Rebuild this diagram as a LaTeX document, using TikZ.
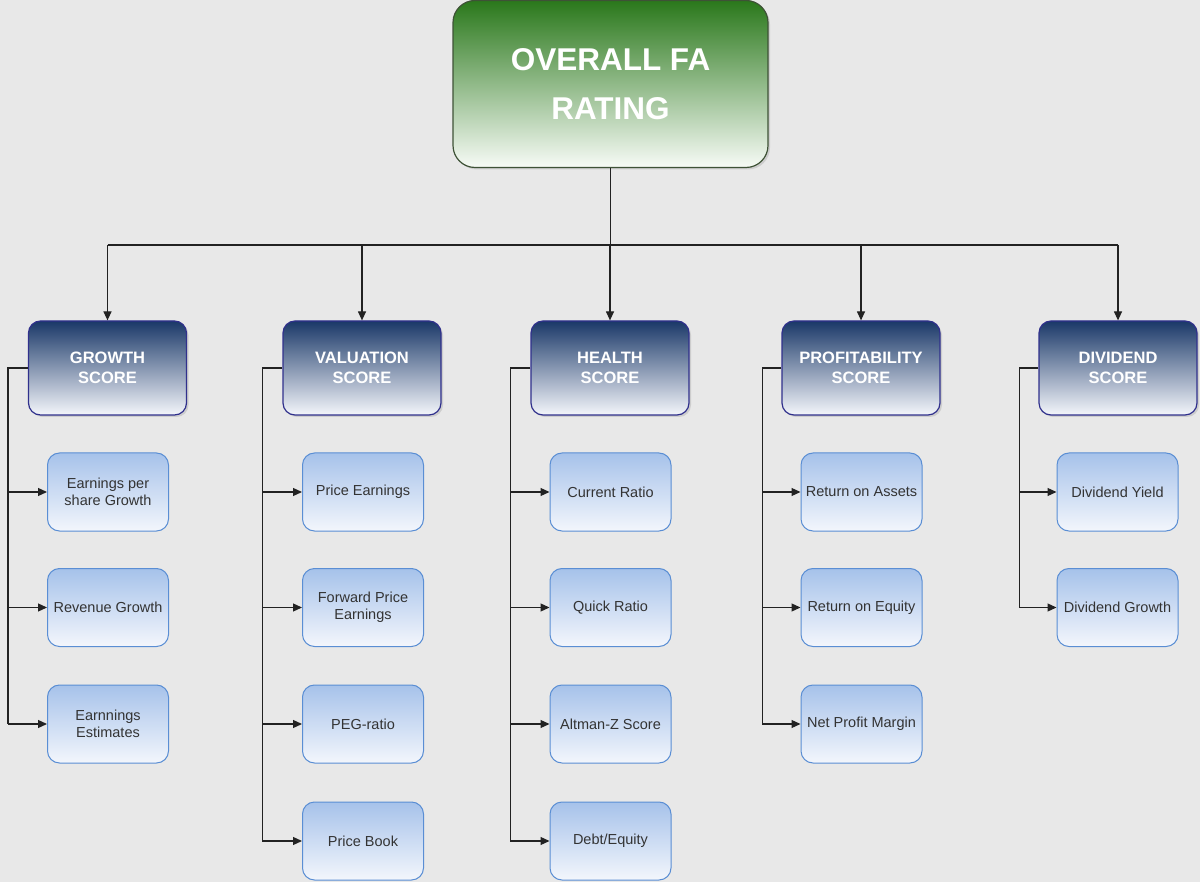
\documentclass[tikz,border=0pt]{standalone}
\usepackage{fontspec}
\setmainfont{Liberation Sans}
\usetikzlibrary{arrows.meta,shadows,calc}
\definecolor{bg}{HTML}{E8E8E8}
\definecolor{topgreen}{HTML}{2A781B}
\definecolor{topwhite}{HTML}{F7FBF6}
\definecolor{topborder}{HTML}{3E5236}
\definecolor{catnavy}{HTML}{1A3868}
\definecolor{catwhite}{HTML}{F4F6FB}
\definecolor{catborder}{HTML}{30308C}
\definecolor{leaftop}{HTML}{A6C2EA}
\definecolor{leafbot}{HTML}{F3F6FC}
\definecolor{leafborder}{HTML}{5A8ED4}
\definecolor{leaftext}{HTML}{333333}
\definecolor{conncol}{HTML}{222222}
\begin{document}
\begin{tikzpicture}[x=1pt,y=-1pt,
  shad/.style={drop shadow={opacity=0.25,shadow xshift=2pt,shadow yshift=-2pt}},
  topbox/.style={shad,draw=topborder,line width=1.2pt,rounded corners=22pt,
    top color=topgreen,bottom color=topwhite,minimum width=315pt,minimum height=167pt,
    inner sep=0pt,align=center,text=white,font=\fontsize{31.5}{49}\selectfont\bfseries},
  catbox/.style={shad,draw=catborder,line width=1.2pt,rounded corners=12pt,
    top color=catnavy,bottom color=catwhite,minimum width=158pt,minimum height=94pt,
    inner sep=0pt,align=center,text=white,font=\fontsize{16.5}{20}\selectfont\bfseries},
  leafbox/.style={draw=leafborder,line width=1pt,rounded corners=12pt,
    top color=leaftop,bottom color=leafbot,minimum width=121pt,minimum height=78pt,
    inner sep=0pt,align=center,text=leaftext,font=\fontsize{14.5}{17}\selectfont},
  conn/.style={draw=conncol,line width=1.2pt},
  arr/.style={conn,-{Triangle[length=9pt,width=8pt]}}]
\useasboundingbox (0,0) rectangle (1200,882);
\fill[bg] (0,0) rectangle (1200,882);

\node[topbox] (top) at (610.5,84) {OVERALL FA\\RATING};

\node[catbox] (g) at (107.5,368) {GROWTH\\SCORE};
\node[catbox] (v) at (362,368) {VALUATION\\SCORE};
\node[catbox] (h) at (610,368) {HEALTH\\SCORE};
\node[catbox] (p) at (861,368) {PROFITABILITY\\SCORE};
\node[catbox] (d) at (1118,368) {DIVIDEND\\SCORE};

\node[leafbox] (g1) at (108,492) {Earnings per\\share Growth};
\node[leafbox] (g2) at (108,607.5) {Revenue Growth};
\node[leafbox] (g3) at (108,724) {Earnnings\\Estimates};

\node[leafbox] (v1) at (363,492) {Price Earnings};
\node[leafbox] (v2) at (363,607.5) {Forward Price\\Earnings};
\node[leafbox] (v3) at (363,724) {PEG-ratio};
\node[leafbox] (v4) at (363,841) {Price Book};

\node[leafbox] (h1) at (610.5,492) {Current Ratio};
\node[leafbox] (h2) at (610.5,607.5) {Quick Ratio};
\node[leafbox] (h3) at (610.5,724) {Altman-Z Score};
\node[leafbox] (h4) at (610.5,841) {Debt/Equity};

\node[leafbox] (p1) at (861.5,492) {Return on Assets};
\node[leafbox] (p2) at (861.5,607.5) {Return on Equity};
\node[leafbox] (p3) at (861.5,724) {Net Profit Margin};

\node[leafbox] (d1) at (1117.5,492) {Dividend Yield};
\node[leafbox] (d2) at (1117.5,607.5) {Dividend Growth};

% top bus
\coordinate (bus) at (610.5,245);
\draw[conn] (top.south) -- (bus);
\draw[conn] (g.north |- bus) -- (d.north |- bus);
\foreach \c in {g,v,h,p,d} {\draw[arr] (\c.north |- bus) -- (\c.north);}

% side trunks
\coordinate (gs) at ($(g.west)+(-20,0)$);
\coordinate (vs) at ($(v.west)+(-20,0)$);
\coordinate (hs) at ($(h.west)+(-20,0)$);
\coordinate (ps) at ($(p.west)+(-19,0)$);
\coordinate (ds) at ($(d.west)+(-19,0)$);

\draw[conn] (g.west) -- (gs) -- (gs |- g3.west);
\foreach \l in {g1,g2,g3} {\draw[arr] (gs |- \l.west) -- (\l.west);}
\draw[conn] (v.west) -- (vs) -- (vs |- v4.west);
\foreach \l in {v1,v2,v3,v4} {\draw[arr] (vs |- \l.west) -- (\l.west);}
\draw[conn] (h.west) -- (hs) -- (hs |- h4.west);
\foreach \l in {h1,h2,h3,h4} {\draw[arr] (hs |- \l.west) -- (\l.west);}
\draw[conn] (p.west) -- (ps) -- (ps |- p3.west);
\foreach \l in {p1,p2,p3} {\draw[arr] (ps |- \l.west) -- (\l.west);}
\draw[conn] (d.west) -- (ds) -- (ds |- d2.west);
\foreach \l in {d1,d2} {\draw[arr] (ds |- \l.west) -- (\l.west);}
\end{tikzpicture}
\end{document}
